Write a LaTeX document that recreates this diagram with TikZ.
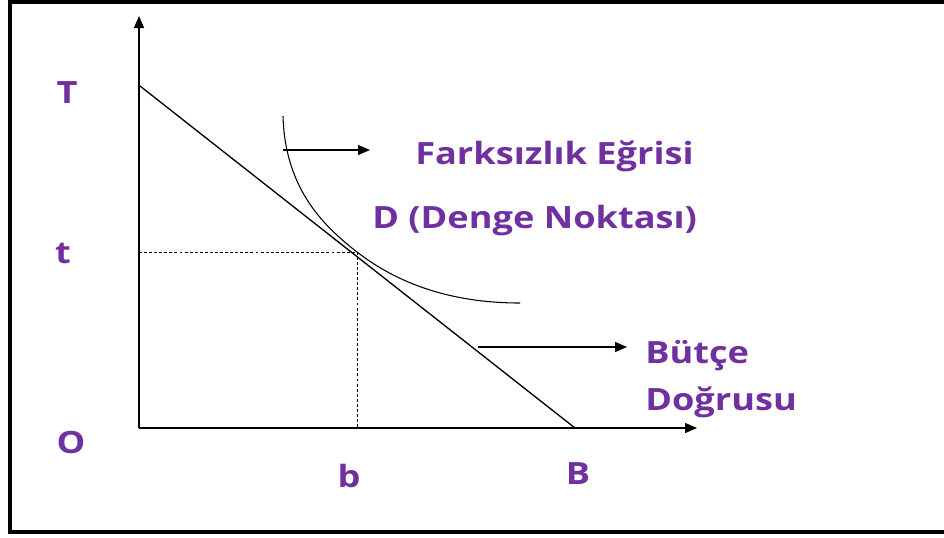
\documentclass[tikz,border=0pt]{standalone}
\usepackage{fontspec}
\setmainfont{Open Sans}[FakeStretch=1.18]
\usetikzlibrary{arrows.meta, positioning}
\definecolor{mor}{HTML}{7030A0}
\tikzset{
  etiket/.style={text=mor, font=\fontsize{23}{28}\selectfont\bfseries, inner sep=0pt},
  okucu/.style={-{Triangle[length=9pt,width=7.5pt]}, line width=1pt},
  kesik/.style={dash pattern=on 2.2pt off 1.6pt, line width=0.7pt}
}

\begin{document}
\begin{tikzpicture}[x=0.75pt, y=-0.75pt]
        \useasboundingbox (0,0) rectangle (944,537);
        % Cerceve
        \draw[line width=3pt] (944,1.5) -- (10,1.5) -- (10,532) -- (944,532);

        % Noktalar
        \coordinate (O) at (139,428);
        \coordinate (ytop) at (139,16);
        \coordinate (xend) at (697,428);
        \coordinate (T0) at (140,86);
        \coordinate (B0) at (575,428);
        \coordinate (D) at (357,252);
        \coordinate (Dt) at (139,252);
        \coordinate (Db) at (357,428);

        % Assen
        \draw[okucu] (O) -- (ytop);
        \draw[okucu] (O) -- (xend);

        % Butce dogrusu
        \draw[line width=1pt] (T0) -- (B0);

        % Farksizlik egrisi
        \draw[line width=0.8pt] (283,116) .. controls (285,190) and (325,227) .. (D)
                                 .. controls (397,283) and (450,303) .. (520,303);

        % Kesik cizgiler
        \draw[kesik] (Dt) -- (D) -- (Db);

        % Etiketler
        \node[etiket, anchor=base] (lT) at (67,103) {T};
        \node[etiket, anchor=base] (lt) at (63,263) {t};
        \node[etiket, anchor=base] (lO) at (71,453) {O};
        \node[etiket, anchor=base] (lb) at (349,487) {b};
        \node[etiket, anchor=base] (lB) at (578,484) {B};
        \node[etiket, anchor=base west] (fe) at (415,164) {Farksızlık Eğrisi};
        \node[etiket, anchor=base west] (dn) at (372,228) {D (Denge Noktası)};
        \node[etiket, anchor=base west] (bt) at (645,363) {Bütçe};
        \node[etiket, anchor=base west] (dg) at (645,410) {Doğrusu};

        % Oklar
        \coordinate (a1) at (283,150);
        \coordinate (a2) at (370,150);
        \coordinate (a3) at (478,347);
        \coordinate (a4) at (627,347);
        \draw[okucu] (a1) -- (a2);
        \draw[okucu] (a3) -- (a4);
\end{tikzpicture}
\end{document}
